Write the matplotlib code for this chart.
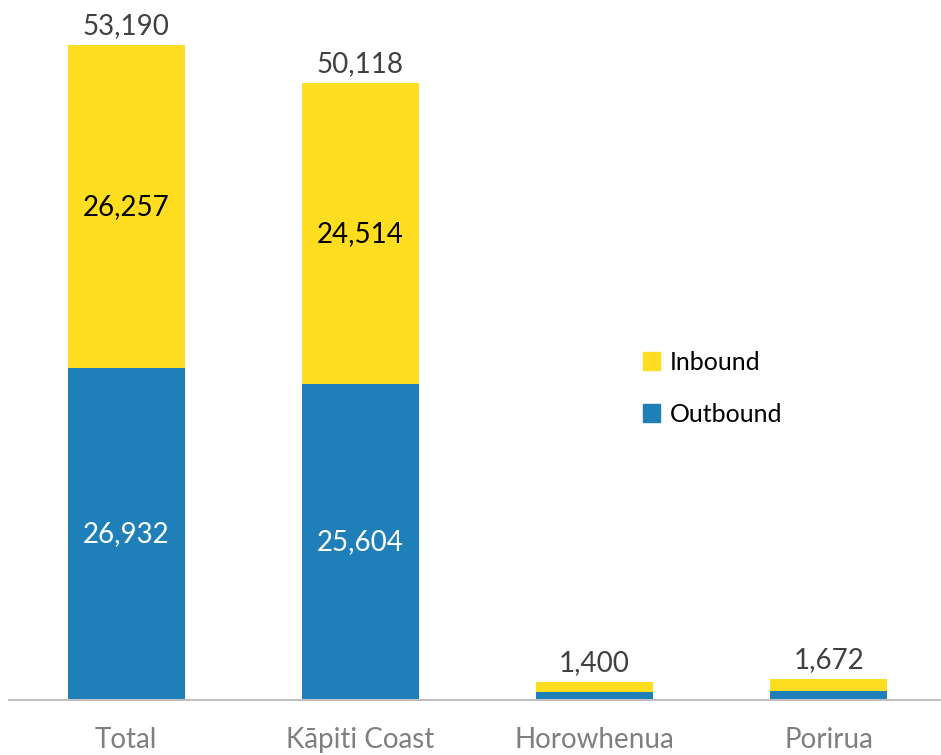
import matplotlib
matplotlib.use("Agg")
import matplotlib.pyplot as plt
from matplotlib.patches import Patch

plt.rcParams['font.family'] = ['Lato', 'DejaVu Sans']

categories = ["Total", "Kāpiti Coast", "Horowhenua", "Porirua"]
outbound = [26932, 25604, 600, 728]
inbound = [26257, 24514, 800, 944]
totals = [53190, 50118, 1400, 1672]
show_inner = [True, True, False, False]

blue = "#1F7FB9"
yellow = "#FFDD21"

fig = plt.figure(figsize=(9.41, 7.55), dpi=100)
ax = fig.add_axes([9 / 941, 55.5 / 755, 1 - 9 / 941, 699.5 / 755])

x = list(range(len(categories)))
ax.bar(x, outbound, width=0.5, color=blue, label="Outbound")
ax.bar(x, inbound, width=0.5, bottom=outbound, color=yellow, label="Inbound")

for i in x:
    if show_inner[i]:
        ax.text(i, outbound[i] / 2, f"{outbound[i]:,}", ha="center", va="center",
                color="white", fontsize=20)
        ax.text(i, outbound[i] + inbound[i] / 2, f"{inbound[i]:,}", ha="center",
                va="center", color="black", fontsize=20)
    ax.text(i, totals[i] + 500, f"{totals[i]:,}", ha="center", va="bottom",
            color="#404040", fontsize=20)

ax.set_xlim(-0.5, 3.48)
ax.set_ylim(0, 56850)
ax.set_yticks([])
ax.set_xticks(x)
ax.set_xticklabels(categories, fontsize=20, color="#7F7F7F")
ax.tick_params(axis="x", length=0, pad=20)
for s in ["top", "right", "left"]:
    ax.spines[s].set_visible(False)
ax.spines["bottom"].set_color("#BFBFBF")
ax.spines["bottom"].set_linewidth(1.5)

handles = [Patch(color=yellow), Patch(color=blue)]
ax.legend(handles, ["Inbound", "Outbound"], loc="center left",
          bbox_to_anchor=(611 / 932, 0.445), frameon=False, fontsize=18,
          handlelength=0.7, handleheight=0.7, handletextpad=0.4, labelspacing=1.15)

fig.savefig("out.png", dpi=100)
